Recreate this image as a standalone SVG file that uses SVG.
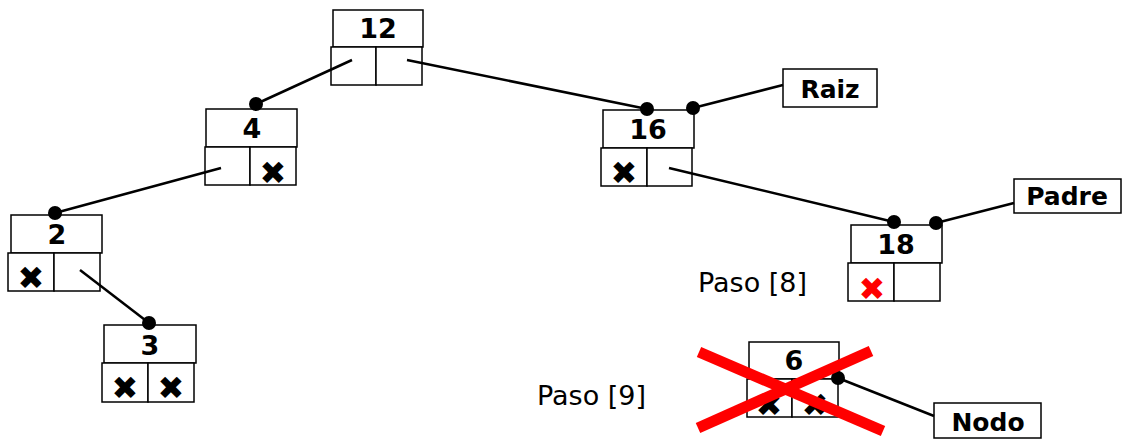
<svg xmlns="http://www.w3.org/2000/svg" width="1124" height="439" viewBox="0 0 1124 439">
<style>
.box{fill:#fff;stroke:#000;stroke-width:1.5}
.num{font-family:"DejaVu Sans",Verdana,sans-serif;font-weight:bold;font-size:27px;text-anchor:middle;fill:#000}
.lbl{font-family:"DejaVu Sans",Verdana,sans-serif;font-weight:bold;font-size:25px;text-anchor:middle;fill:#000}
.x{font-family:"DejaVu Sans",sans-serif;font-size:32px;text-anchor:middle;fill:#000}
.xr{fill:#f00}
.step{font-family:"DejaVu Sans",Verdana,sans-serif;font-size:27px;fill:#000}
.ln{stroke:#000;stroke-width:2.5;fill:none}
.dot{fill:#000}
.cross{stroke:#f00;stroke-width:11;stroke-linecap:butt}
</style>
<rect width="1124" height="439" fill="#fff"/>
<g id="n12">
<rect class="box" x="333" y="10" width="90" height="37"/>
<rect class="box" x="331" y="47" width="45" height="38"/>
<rect class="box" x="376" y="47" width="46" height="38"/>
<text class="num" x="378" y="38">12</text>
</g>
<g id="n4">
<rect class="box" x="206" y="109" width="91" height="38"/>
<rect class="box" x="205" y="147" width="45" height="38"/>
<rect class="box" x="250" y="147" width="46" height="38"/>
<text class="num" x="252" y="138">4</text>
<text class="x" x="273" y="184">✖</text>
</g>
<g id="n2">
<rect class="box" x="11" y="215" width="91" height="38"/>
<rect class="box" x="8" y="253" width="46" height="38"/>
<rect class="box" x="54" y="253" width="46" height="38"/>
<text class="num" x="57" y="244">2</text>
<text class="x" x="31" y="289">✖</text>
</g>
<g id="n3">
<rect class="box" x="104" y="325" width="92" height="38"/>
<rect class="box" x="102" y="363" width="46" height="39"/>
<rect class="box" x="148" y="363" width="46" height="39"/>
<text class="num" x="150" y="355">3</text>
<text class="x" x="125" y="399">✖</text>
<text class="x" x="171" y="399">✖</text>
</g>
<g id="n16">
<rect class="box" x="603" y="110" width="91" height="38"/>
<rect class="box" x="601" y="148" width="46" height="38"/>
<rect class="box" x="647" y="148" width="45" height="38"/>
<text class="num" x="648" y="139">16</text>
<text class="x" x="624" y="184">✖</text>
</g>
<g id="n18">
<rect class="box" x="851" y="225" width="91" height="38"/>
<rect class="box" x="848" y="263" width="46" height="38"/>
<rect class="box" x="894" y="263" width="46" height="38"/>
<text class="num" x="896" y="254">18</text>
<text class="x xr" x="872" y="300">✖</text>
</g>
<g id="n6">
<rect class="box" x="749" y="342" width="90" height="37"/>
<rect class="box" x="747" y="379" width="45" height="38"/>
<rect class="box" x="792" y="379" width="46" height="38"/>
<text class="num" x="794" y="370">6</text>
<text class="x" x="769" y="416">✖</text>
<text class="x" x="815" y="416">✖</text>
</g>
<g id="raiz">
<rect class="box" x="783" y="69" width="94" height="38"/>
<text class="lbl" x="830" y="98">Raiz</text>
</g>
<g id="padre">
<rect class="box" x="1014" y="179" width="107" height="34"/>
<text class="lbl" x="1067" y="205">Padre</text>
</g>
<g id="nodo">
<rect class="box" x="934" y="403" width="107" height="35"/>
<text class="lbl" x="988" y="431">Nodo</text>
</g>
<g id="connectors">
<line class="ln" x1="352" y1="60" x2="256" y2="104"/>
<line class="ln" x1="407" y1="60" x2="647" y2="109"/>
<line class="ln" x1="221" y1="168" x2="55" y2="213"/>
<line class="ln" x1="80" y1="270" x2="149" y2="323"/>
<line class="ln" x1="693" y1="108" x2="783" y2="85"/>
<line class="ln" x1="669" y1="168" x2="894" y2="222"/>
<line class="ln" x1="936" y1="223" x2="1014" y2="203"/>
<line class="ln" x1="838" y1="378" x2="934" y2="416"/>
<circle class="dot" cx="256" cy="104" r="7"/>
<circle class="dot" cx="647" cy="109" r="7"/>
<circle class="dot" cx="693" cy="108" r="7"/>
<circle class="dot" cx="55" cy="213" r="7"/>
<circle class="dot" cx="149" cy="323" r="7"/>
<circle class="dot" cx="894" cy="222" r="7"/>
<circle class="dot" cx="936" cy="223" r="7"/>
<circle class="dot" cx="838" cy="378" r="7"/>
</g>
<g id="cross">
<line class="cross" x1="699" y1="352" x2="883" y2="431"/>
<line class="cross" x1="871" y1="351" x2="698" y2="428"/>
</g>
<text class="step" x="698" y="292">Paso [8]</text>
<text class="step" x="537" y="405">Paso [9]</text>
</svg>
